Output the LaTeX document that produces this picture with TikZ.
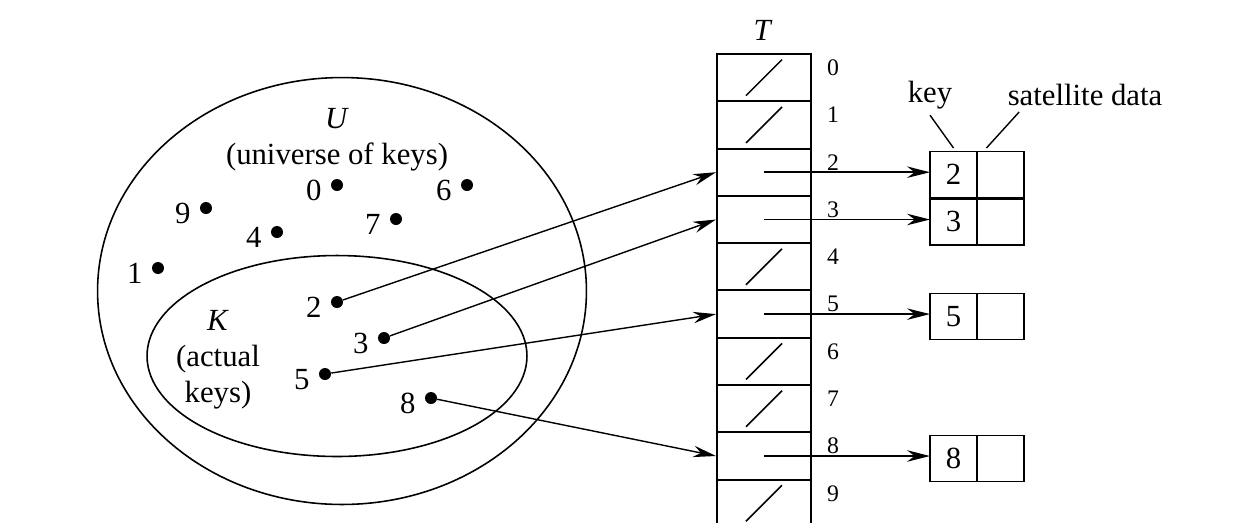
\documentclass[tikz,border=0pt]{standalone}
\usepackage{fontspec}
\setmainfont{Liberation Serif}
\usetikzlibrary{positioning, arrows.meta, shapes.geometric}

\begin{document}
\begin{tikzpicture}[
  x=0.02cm, y=-0.02cm,
  font=\fontsize{17.5}{20.5}\selectfont,
  >={Stealth[length=13pt, width=6.5pt]},
  slot/.style={rectangle, draw, line width=1.1pt, minimum width=1.88cm, minimum height=0.946cm, inner sep=0pt},
  slotidx/.style={font=\fontsize{13.5}{15}\selectfont, inner sep=0pt},
  nilmark/.style={line width=0.9pt},
  reccell/.style={rectangle, draw, line width=1.1pt, minimum width=0.94cm, minimum height=0.92cm, inner sep=0pt, outer sep=0pt},
  keydot/.style={circle, fill=black, inner sep=0pt, minimum size=0.24cm},
  keylbl/.style={label distance=4pt, inner sep=1pt, yshift=-3pt},
  setshape/.style={ellipse, draw, line width=0.9pt, inner sep=0pt},
  hashptr/.style={->, line width=0.8pt},
  slotptr/.style={->, line width=1.1pt},
  callout/.style={line width=0.8pt}
]
\useasboundingbox (0,0) rectangle (1250,522);

% Universe and actual keys
\node[setshape, minimum width=9.78cm, minimum height=8.54cm] (U) at (342,291) {};
\node[setshape, minimum width=7.6cm, minimum height=4.02cm] (K) at (337,356) {};
\node[align=center] (Utxt) at (337,140) {\textit{U}\\(universe of keys)};
\node[align=center] (Ktxt) at (218,360) {\textit{K}\\(actual\\keys)};

% Keys
\foreach \k/\x/\y in {0/337/185, 6/467/185, 9/206/208, 7/396/219, 4/277/232,
                      1/158/268, 2/337/302, 3/384/338, 5/325/374, 8/431/398}
  \node[keydot, label={[keylbl]left:\k}] (u\k) at (\x,\y) {};

% Table T
\node (Ttxt) at (763,30) {\textit{T}};
\foreach \i in {0,...,9}{
  \node[slot] (T\i) at (764,{77.6+47.3*\i}) {};
  \node[slotidx] (idx\i) at ([shift={(69,-10)}]T\i.center) {\i};
}
\foreach \i in {0,1,4,6,7,9}
  \draw[nilmark] ([shift={(-18,18)}]T\i.center) -- ([shift={(18,-18)}]T\i.center);

% Elements
\foreach \k/\y in {2/174.5, 3/221.8, 5/316.5, 8/458.5}{
  \node[reccell] (key\k) at (953.5,\y) {\k};
  \node[reccell, right=0pt of key\k] (sat\k) {};
  \draw[slotptr] (T\k.center) -- (T\k.center -| key\k.west);
}

% Callouts
\node (keytxt) at (930,95) {key};
\node (sattxt) at (1085,95) {satellite data};
\draw[callout] (keytxt.south) -- ([yshift=2pt]key2.north);
\draw[callout] ([xshift=10pt]sattxt.south west) -- ([xshift=-8pt, yshift=2pt]sat2.north);

% Hashing
\foreach \k in {2,3,5,8}
  \draw[hashptr] (u\k) -- (T\k.west);

\end{tikzpicture}
\end{document}
